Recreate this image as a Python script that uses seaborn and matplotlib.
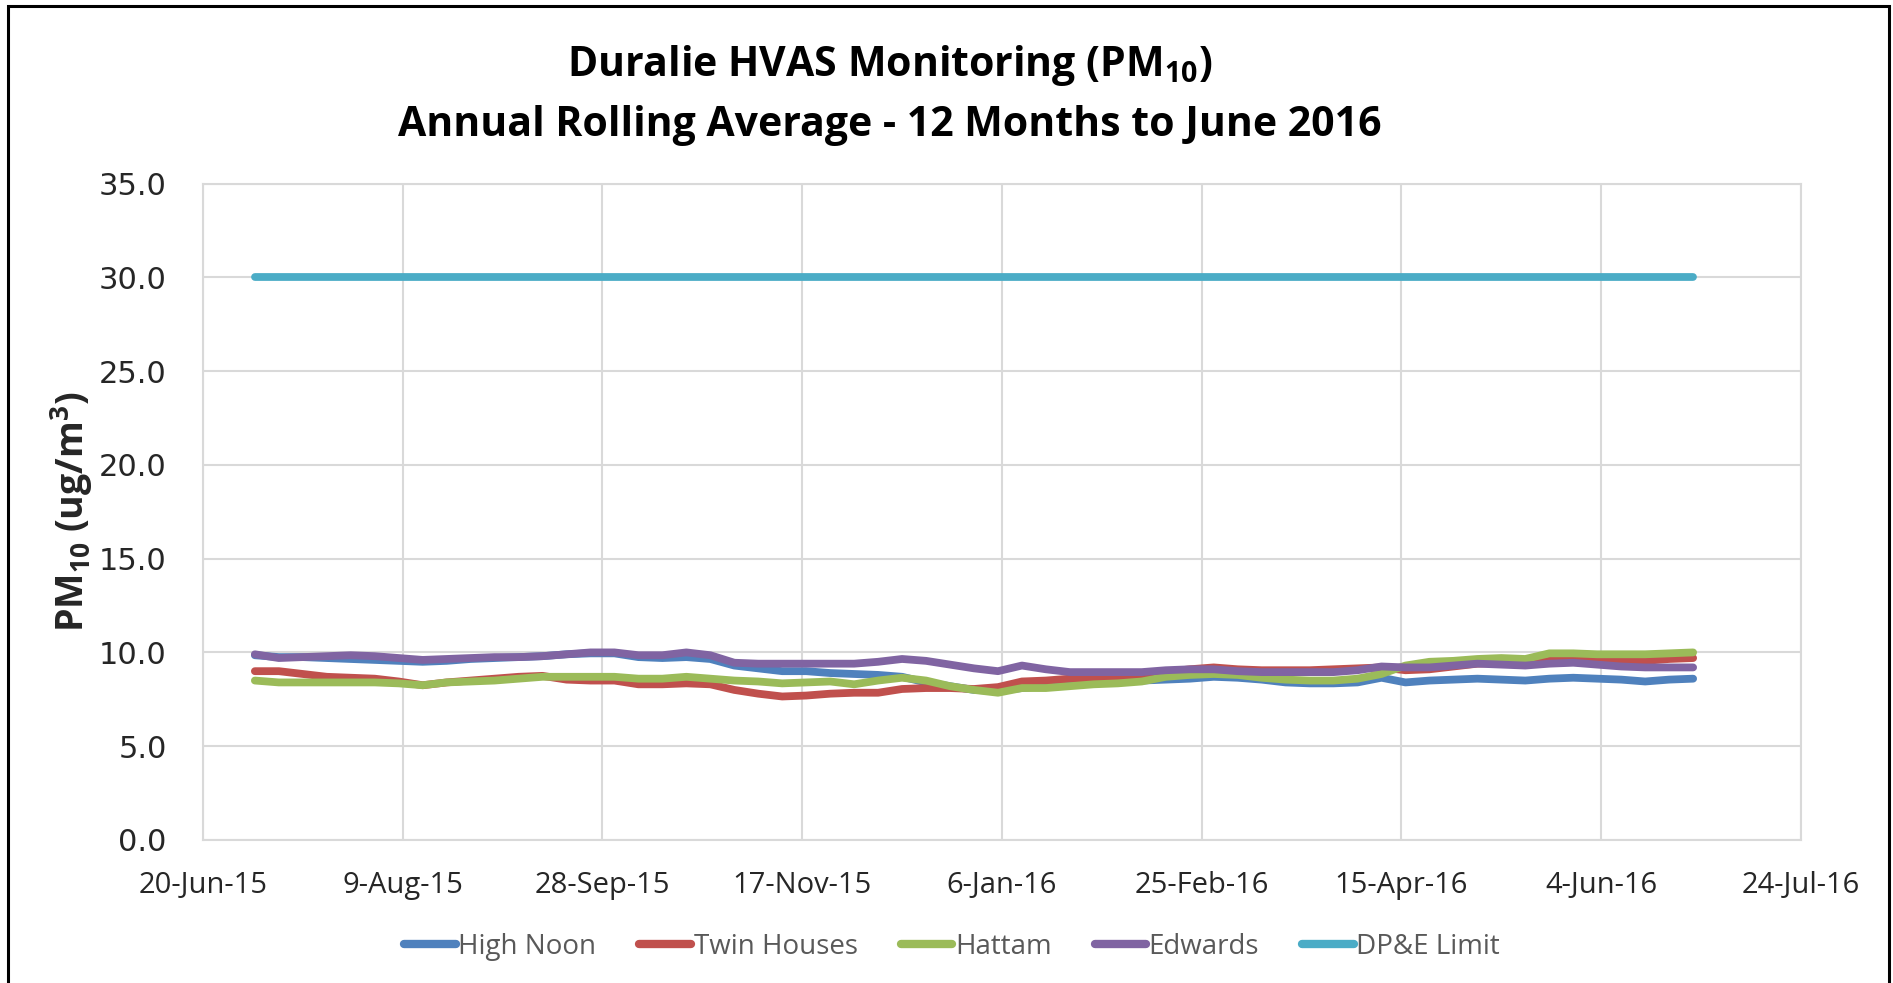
import numpy as np
import pandas as pd
import seaborn as sns
import matplotlib
matplotlib.use('Agg')
from matplotlib import pyplot as plt
from matplotlib.patches import Rectangle

# HVAS samples every 6 days, 3-Jul-15 .. 27-Jun-16
dates = pd.date_range(start='2015-07-03', periods=61, freq='6D')

high_noon = [9.85, 9.75, 9.75, 9.7, 9.65, 9.6, 9.55, 9.5, 9.55, 9.65, 9.7, 9.75, 9.8, 9.9, 9.95,
             9.95, 9.75, 9.7, 9.75, 9.65, 9.3, 9.15, 9.0, 9.0, 8.9, 8.85, 8.8, 8.7, 8.4, 8.2, 8.0, 7.95,
             8.1, 8.2, 8.3, 8.35, 8.4, 8.5, 8.55, 8.6, 8.7, 8.65, 8.55, 8.4, 8.35, 8.35, 8.4, 8.65, 8.4,
             8.5, 8.55, 8.6, 8.55, 8.5, 8.6, 8.65, 8.6, 8.55, 8.45, 8.55, 8.6]
twin_houses = [9.0, 9.0, 8.85, 8.7, 8.65, 8.6, 8.45, 8.25, 8.4, 8.5, 8.6, 8.7, 8.75, 8.55, 8.5,
               8.5, 8.3, 8.3, 8.35, 8.3, 8.0, 7.8, 7.65, 7.7, 7.8, 7.85, 7.85, 8.05, 8.1, 8.1, 8.05, 8.15,
               8.45, 8.5, 8.6, 8.65, 8.7, 8.75, 8.95, 9.1, 9.2, 9.1, 9.05, 9.05, 9.05, 9.1, 9.15, 9.2, 9.05,
               9.1, 9.25, 9.4, 9.45, 9.45, 9.55, 9.6, 9.55, 9.5, 9.55, 9.65, 9.7]
hattam = [8.5, 8.4, 8.4, 8.4, 8.4, 8.4, 8.35, 8.25, 8.4, 8.45, 8.5, 8.6, 8.7, 8.7, 8.7,
          8.7, 8.6, 8.6, 8.7, 8.6, 8.5, 8.45, 8.35, 8.4, 8.45, 8.3, 8.5, 8.65, 8.5, 8.2, 8.0, 7.85,
          8.1, 8.1, 8.2, 8.3, 8.35, 8.45, 8.7, 8.8, 8.85, 8.8, 8.65, 8.55, 8.5, 8.5, 8.6, 8.85, 9.3,
          9.5, 9.55, 9.65, 9.7, 9.65, 9.95, 9.95, 9.9, 9.9, 9.9, 9.95, 10.0]
edwards = [9.9, 9.7, 9.75, 9.8, 9.85, 9.8, 9.7, 9.6, 9.65, 9.7, 9.75, 9.75, 9.8, 9.9, 10.0,
           10.0, 9.85, 9.85, 10.0, 9.85, 9.45, 9.4, 9.4, 9.4, 9.4, 9.4, 9.5, 9.65, 9.55, 9.35, 9.15, 9.0,
           9.3, 9.1, 8.95, 8.95, 8.95, 8.95, 9.05, 9.1, 9.1, 9.0, 8.95, 8.95, 8.95, 8.95, 9.05, 9.25, 9.2,
           9.2, 9.3, 9.4, 9.35, 9.3, 9.4, 9.45, 9.35, 9.25, 9.2, 9.2, 9.2]
dpe_limit = [30.0] * len(dates)

series_names = ['High Noon', 'Twin Houses', 'Hattam', 'Edwards', 'DP&E Limit']
series_values = [high_noon, twin_houses, hattam, edwards, dpe_limit]
colors = ['#4F81BD', '#C0504D', '#9BBB59', '#8064A2', '#4BACC6']

tick_dates = pd.date_range(start='2015-06-20', periods=9, freq='50D')

sns.set_style('white')
plt.rcParams['font.family'] = ['Open Sans', 'DejaVu Sans']
plt.rcParams['mathtext.default'] = 'regular'

fig = plt.figure(figsize=(18.93, 9.83), dpi=100)
ax = fig.add_axes([0.1072, 0.1455, 0.8442, 0.6678])

for name, vals, col in zip(series_names, series_values, colors):
    df = pd.DataFrame({'Date': dates, 'Value': vals})
    sns.lineplot(data=df, x='Date', y='Value', ax=ax, color=col, linewidth=5.6,
                 label=name, sort=False, solid_capstyle='round', legend=False)

ax.set_xlim(tick_dates[0], tick_dates[-1])
ax.set_ylim(0, 35)
ax.set_yticks(np.arange(0, 35.1, 5))
ax.set_yticklabels([f'{v:.1f}' for v in np.arange(0, 35.1, 5)],
                   fontsize=22, family='DejaVu Sans')
ax.set_xticks(tick_dates)
ax.set_xticklabels([f'{d.day}-{d.strftime("%b")}-{d.strftime("%y")}' for d in tick_dates],
                   fontsize=21)
ax.tick_params(axis='y', length=0, pad=26)
ax.tick_params(axis='x', length=0, pad=22)

ax.grid(True, color='#d9d9d9', linewidth=1.5)
ax.set_axisbelow(True)
for s in ax.spines.values():
    s.set_visible(True)
    s.set_color('#d9d9d9')
    s.set_linewidth(1.5)

ax.set_xlabel('')
ax.set_ylabel('PM$_{10}$ (ug/m$^{3}$)', fontsize=27, fontweight='bold', labelpad=3)

fig.text(0.470, 0.933, 'Duralie HVAS Monitoring (PM$_{10}$)', ha='center', va='center',
         fontsize=29.5, fontweight='bold', color='black')
fig.text(0.470, 0.872, 'Annual Rolling Average - 12 Months to June 2016', ha='center', va='center',
         fontsize=29.5, fontweight='bold', color='black')

handles = [plt.Line2D([0], [0], color=c, linewidth=6, solid_capstyle='round') for c in colors]
leg = fig.legend(handles, series_names, loc='center', bbox_to_anchor=(0.503, 0.037), ncol=5,
                 frameon=False, fontsize=20, handlelength=1.85, handletextpad=0.1,
                 columnspacing=1.55)
for t in leg.get_texts():
    t.set_color('#595959')

fig.patches.append(Rectangle((8 / 1893, -0.01), (1889 - 8) / 1893, 0.01 + (983 - 6) / 983,
                             transform=fig.transFigure, fill=False, edgecolor='black',
                             linewidth=2.2, zorder=10))

fig.savefig('out.png', dpi=100)
